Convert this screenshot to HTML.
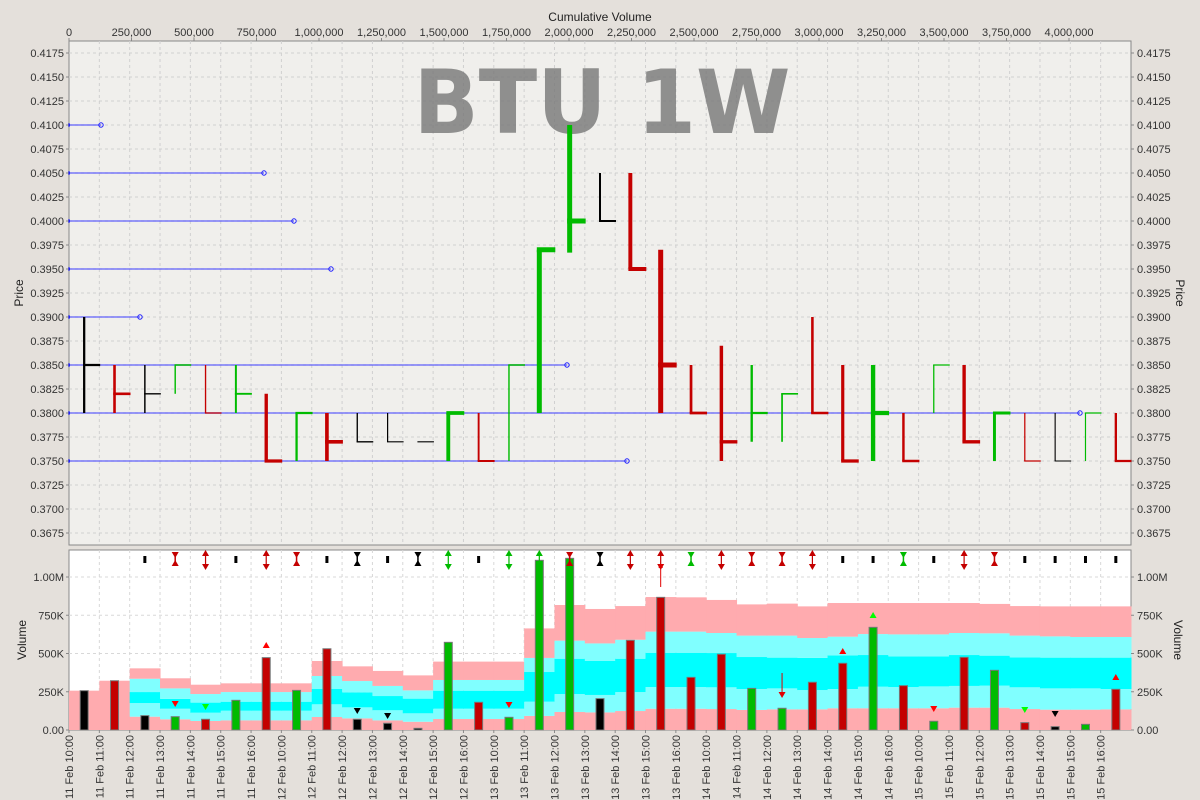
<!DOCTYPE html>
<html><head><meta charset="utf-8"><style>
html,body{margin:0;padding:0;background:#e4e0db;}
svg{display:block;font-family:"Liberation Sans",sans-serif;}
</style></head><body>
<svg id="chart" width="1200" height="800" xmlns="http://www.w3.org/2000/svg">
<rect x="0" y="0" width="1200" height="800" fill="#e4e0db"/>
<rect x="69" y="41" width="1062" height="504" fill="#f0efec" stroke="#888"/>
<rect x="69" y="550" width="1062" height="180" fill="#ffffff" stroke="#888"/>
<g id="grid"></g>
<g id="bands"></g>
<text x="602" y="133" text-anchor="middle" font-family="DejaVu Sans, sans-serif" font-weight="bold" font-size="88" fill="#777" fill-opacity="0.8" textLength="377" lengthAdjust="spacingAndGlyphs">BTU 1W</text>
<g id="profile"></g>
<g id="prices"></g>
<g id="vols"></g>
<g id="marks"></g>
<g id="axes"></g>
<text x="600" y="21" text-anchor="middle" font-size="12" fill="#222">Cumulative Volume</text>
<text transform="translate(23,293) rotate(-90)" text-anchor="middle" font-size="12" fill="#222">Price</text>
<text transform="translate(1176,293) rotate(90)" text-anchor="middle" font-size="12" fill="#222">Price</text>
<text transform="translate(26,640) rotate(-90)" text-anchor="middle" font-size="12" fill="#222">Volume</text>
<text transform="translate(1174,640) rotate(90)" text-anchor="middle" font-size="12" fill="#222">Volume</text>
</svg>
<script>
const categories=["11 Feb 10:00","11 Feb 11:00","11 Feb 12:00","11 Feb 13:00","11 Feb 14:00","11 Feb 15:00","11 Feb 16:00","12 Feb 10:00","12 Feb 11:00","12 Feb 12:00","12 Feb 13:00","12 Feb 14:00","12 Feb 15:00","12 Feb 16:00","13 Feb 10:00","13 Feb 11:00","13 Feb 12:00","13 Feb 13:00","13 Feb 14:00","13 Feb 15:00","13 Feb 16:00","14 Feb 10:00","14 Feb 11:00","14 Feb 12:00","14 Feb 13:00","14 Feb 14:00","14 Feb 15:00","14 Feb 16:00","15 Feb 10:00","15 Feb 11:00","15 Feb 12:00","15 Feb 13:00","15 Feb 14:00","15 Feb 15:00","15 Feb 16:00"];
const highs=[.3900,.3850,.3850,.3850,.3850,.3850,.3820,.3800,.3800,.3800,.3800,.3770,.3800,.3800,.3850,.3970,.4100,.4050,.4050,.3970,.3850,.3870,.3850,.3820,.3900,.3850,.3850,.3800,.3850,.3850,.3800,.3800,.3800,.3800,.3800];
const lows=[.3800,.3800,.3800,.3820,.3800,.3800,.3750,.3750,.3750,.3770,.3770,.3770,.3750,.3750,.3750,.3800,.3967,.4000,.3950,.3800,.3800,.3750,.3770,.3770,.3800,.3750,.3750,.3750,.3800,.3770,.3750,.3750,.3750,.3750,.3750];
const closes=[.3850,.3820,.3820,.3850,.3800,.3820,.3750,.3800,.3770,.3770,.3770,.3770,.3800,.3750,.3850,.3970,.4000,.4000,.3950,.3850,.3800,.3770,.3800,.3820,.3800,.3750,.3800,.3750,.3850,.3770,.3800,.3750,.3750,.3800,.3750];
const barColors=["k","r","k","g","r","g","r","g","r","k","k","k","g","r","g","g","g","k","r","r","r","r","g","g","r","r","g","r","g","r","g","r","k","g","r"];
const volumes=[257,322,94,87,70,194,473,259,531,70,44,11,573,181,83,1109,1122,205,586,867,344,495,272,142,312,436,671,290,57,475,390,48,22,37,266];
const band1=[257,322,87,70,59,63,63,63,85,76,63,54,72,72,72,92,118,115,124,139,139,137,131,135,135,142,142,142,142,146,146,137,133,133,135];
const band2=[257,322,176,139,113,126,126,126,168,148,129,109,139,139,139,185,235,229,248,281,281,279,268,272,261,268,283,281,285,288,290,279,272,272,268];
const band3=[257,322,248,203,179,185,185,185,268,246,222,205,257,257,257,379,466,451,466,505,505,503,477,473,471,488,490,481,481,490,486,475,473,473,473];
const band4=[257,322,335,272,235,248,248,248,353,320,288,259,327,327,327,471,584,566,590,643,643,634,617,617,601,610,627,625,625,634,632,617,612,608,608];
const band5=[257,322,403,338,296,305,305,305,451,416,386,357,447,447,447,664,817,791,810,869,867,850,821,826,808,830,830,830,830,830,824,810,808,808,808];
const profilePrices=[.4100,.4050,.4000,.3950,.3900,.3850,.3800,.3750];
const profileVolumes=[128000,780000,900000,1048000,284000,1992000,4044000,2232000];
const topSignals=["","","k|","r8","r2","k|","r2","r8","k|","k8","k|","k8","g2","k|","g2","g2","r8","k8","r2","r2","g8","r2","r8","r8","r2","k|","k|","g8","k|","r2","r8","k|","k|","k|","k|"];
const subSignals=[[3,"r","dn",704],[4,"g","dn",707],[6,"r","up",645],[9,"k","dn",711],[10,"k","dn",716],[14,"r","dn",705],[25,"r","up",651],[26,"g","up",615],[28,"r","dn",709],[31,"g","dn",710],[32,"k","dn",714],[34,"r","up",677]];
const priceTicks=[.3675,.3700,.3725,.3750,.3775,.3800,.3825,.3850,.3875,.3900,.3925,.3950,.3975,.4000,.4025,.4050,.4075,.4100,.4125,.4150,.4175];
const volTicks=[0,250,500,750,1000];
const volTickLabels=["0.00","250K","500K","750K","1.00M"];
const cumTicks=[0,250000,500000,750000,1000000,1250000,1500000,1750000,2000000,2250000,2500000,2750000,3000000,3250000,3500000,3750000,4000000];

const NS="http://www.w3.org/2000/svg";
const COL={r:"#c40000",g:"#00bb00",k:"#000000"};
const CW=1062/35;
function catX(i){return 69+CW*i;}
function barX(i){return 69+CW*(i+0.5);}
function py(p){return 413-(p-0.38)*9600;}
function vy(v){return 730-v*0.153;}
function cx(v){return 69+v*0.00025;}
function mk(tag,attrs,parent){const e=document.createElementNS(NS,tag);for(const k in attrs)e.setAttribute(k,attrs[k]);parent.appendChild(e);return e;}
const grid=document.getElementById('grid'),bands=document.getElementById('bands'),prof=document.getElementById('profile'),prices=document.getElementById('prices'),vols=document.getElementById('vols'),marks=document.getElementById('marks'),axes=document.getElementById('axes');

priceTicks.forEach(p=>{const l=mk('line',{x1:69,x2:1131,y1:py(p),y2:py(p),stroke:"#d0d0d0","stroke-dasharray":"3,3"},grid);

});
for(let i=1;i<35;i++){
const a=mk('line',{x1:catX(i),x2:catX(i),y1:41,y2:545,stroke:"#d0d0d0","stroke-dasharray":"3,3"},grid);


const b=mk('line',{x1:catX(i),x2:catX(i),y1:550,y2:730,stroke:"#d8d8d8","stroke-dasharray":"3,3"},grid);

}
volTicks.forEach(v=>{if(v===0)return;const l=mk('line',{x1:69,x2:1131,y1:vy(v),y2:vy(v),stroke:"#d8d8d8","stroke-dasharray":"3,3"},grid);

});

const bandCols=["#ffabaf","#80ffff","#00ffff","#80ffff","#ffabaf"];
categories.forEach((c,i)=>{
const lv=[0,band1[i],band2[i],band3[i],band4[i],band5[i]];
for(let k=0;k<5;k++){if(lv[k+1]<=lv[k])continue;
const r=mk('rect',{x:catX(i),y:vy(lv[k+1]),width:CW+0.5,height:vy(lv[k])-vy(lv[k+1]),fill:bandCols[k]},bands);

}
});

profilePrices.forEach((p,i)=>{
const y=py(p);
const l=mk('line',{x1:69,x2:cx(profileVolumes[i]),y1:y,y2:y,stroke:"#5050ff","stroke-opacity":"0.75","stroke-width":1.5},prof);


const c=mk('circle',{cx:cx(profileVolumes[i]),cy:y,r:2.2,fill:"none",stroke:"#2020ff","stroke-width":1},prof);


const s=mk('rect',{x:68,y:y-1.5,width:2,height:3,fill:"#2020ff"},prof);


});

categories.forEach((c,i)=>{
const x=barX(i),col=COL[barColors[i]];
const w=Math.min(5,Math.max(1,1+volumes[i]/200));
const g=mk('g',{stroke:col,"stroke-width":w,fill:"none"},prices);


if(highs[i]>lows[i])mk('line',{x1:x,x2:x,y1:py(highs[i]),y2:py(lows[i])},g);
mk('line',{x1:x-w/2,x2:x+16,y1:py(closes[i]),y2:py(closes[i])},g);
});

categories.forEach((c,i)=>{
const r=mk('rect',{x:barX(i)-4,y:vy(volumes[i]),width:8,height:730-vy(volumes[i]),fill:COL[barColors[i]],stroke:"#777","stroke-width":1},vols);


});

function tri(x,y,dir,col,parent){const s=dir==="up"?-1:1;
return mk('polygon',{points:`${x-3.5},${y-3*s} ${x+3.5},${y-3*s} ${x},${y+3*s}`,fill:col},parent);}
topSignals.forEach((s,i)=>{if(!s)return;const x=barX(i),col=COL[s[0]],t=s[1];
const g=mk('g',{},marks);


if(t==="|"){mk('rect',{x:x-1.5,y:556,width:3,height:7,fill:col},g);}
else if(t==="8"){tri(x,555,"dn",col,g);tri(x,563,"up",col,g);mk('line',{x1:x,x2:x,y1:555,y2:563,stroke:col,"stroke-width":1.5},g);}
else{tri(x,553,"up",col,g);tri(x,567,"dn",col,g);mk('line',{x1:x,x2:x,y1:552,y2:568,stroke:col,"stroke-width":1.2},g);}
});
{const x=barX(19);const g=mk('g',{},marks);


mk('line',{x1:x,x2:x,y1:566,y2:587,stroke:"#e00000","stroke-width":1},g);mk('rect',{x:x-2,y:564,width:4,height:4,fill:"#e00000"},g);}
{const x=barX(23);const g=mk('g',{},marks);


mk('line',{x1:x,x2:x,y1:673,y2:696,stroke:"#e00000","stroke-width":1},g);tri(x,695,"dn","#e00000",g);}
const SC={r:"#ff0000",g:"#00ff00",k:"#000"};
subSignals.forEach(s=>{const t=tri(barX(s[0]),s[3],s[2],SC[s[1]],marks);

});

priceTicks.forEach(p=>{const y=py(p);
const a=mk('text',{x:64,y:y+4,"text-anchor":"end","font-size":11,fill:"#333"},axes);a.textContent=p.toFixed(4);


const b=mk('text',{x:1137,y:y+4,"font-size":11,fill:"#333"},axes);b.textContent=p.toFixed(4);


mk('line',{x1:66,x2:69,y1:y,y2:y,stroke:"#888"},axes);mk('line',{x1:1131,x2:1134,y1:y,y2:y,stroke:"#888"},axes);});
volTicks.forEach((v,k)=>{const y=vy(v);
const a=mk('text',{x:64,y:y+4,"text-anchor":"end","font-size":11,fill:"#333"},axes);a.textContent=volTickLabels[k];


const b=mk('text',{x:1137,y:y+4,"font-size":11,fill:"#333"},axes);b.textContent=volTickLabels[k];


mk('line',{x1:66,x2:69,y1:y,y2:y,stroke:"#888"},axes);mk('line',{x1:1131,x2:1134,y1:y,y2:y,stroke:"#888"},axes);});
cumTicks.forEach(v=>{const x=cx(v);
const t=mk('text',{x:x,y:36,"text-anchor":"middle","font-size":11,fill:"#333"},axes);t.textContent=v.toLocaleString('en-US');


mk('line',{x1:x,x2:x,y1:38,y2:41,stroke:"#888"},axes);});
categories.forEach((c,i)=>{const x=catX(i);
const t=mk('text',{transform:`translate(${x+4},735) rotate(-90)`,"text-anchor":"end","font-size":11,fill:"#333"},axes);t.textContent=c;


mk('line',{x1:x,x2:x,y1:730,y2:733,stroke:"#888"},axes);});
</script>
</body></html>
